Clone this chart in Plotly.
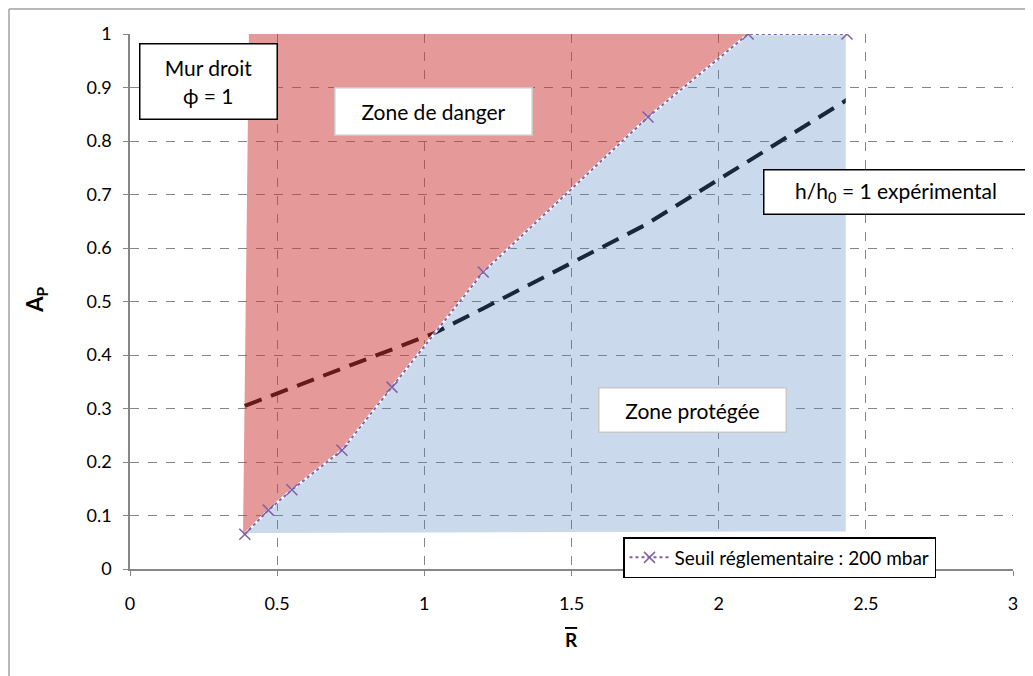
import plotly.graph_objects as go

# seuil réglementaire 200 mbar (R bar, Ap)
seuil_r = [0.39, 0.47, 0.55, 0.72, 0.89, 1.2, 1.76, 2.1, 2.436]
seuil_ap = [0.065, 0.11, 0.148, 0.222, 0.34, 0.555, 0.845, 1.0, 1.0]

# h/h0 = 1 expérimental
exp_r = [0.39, 1.03, 1.2, 1.75, 2.1, 2.436]
exp_ap = [0.305, 0.44, 0.487, 0.643, 0.762, 0.877]

# zone limits
danger_left_r = [0.384, 0.404]
zone_top = 1.0
protect_bottom_ap = [0.065, 0.068]
protect_right_r = 2.436

font_main = "Lato, Open Sans, sans-serif"
purple = "#7E62A8"

fig = go.Figure()

# dashed experimental line (drawn under the translucent zones, like in Excel)
fig.add_trace(go.Scatter(
    x=exp_r, y=exp_ap, mode="lines",
    line=dict(color="black", width=4, dash="18px,10px"),
    showlegend=False, hoverinfo="skip",
))

# red danger zone
red_x = [danger_left_r[0], danger_left_r[1], seuil_r[7]] + seuil_r[6::-1]
red_y = [seuil_ap[0], zone_top, zone_top] + seuil_ap[6::-1]
fig.add_trace(go.Scatter(
    x=red_x, y=red_y, mode="lines", fill="toself",
    fillcolor="rgba(204,51,51,0.5)", line=dict(width=0),
    showlegend=False, hoverinfo="skip",
))

# blue protected zone
blue_x = seuil_r + [protect_right_r, danger_left_r[1]]
blue_y = seuil_ap + [protect_bottom_ap[1], protect_bottom_ap[0]]
fig.add_trace(go.Scatter(
    x=blue_x, y=blue_y, mode="lines", fill="toself",
    fillcolor="rgba(79,129,189,0.3)", line=dict(width=2.5, color="white"),
    showlegend=False, hoverinfo="skip",
))

# threshold curve
fig.add_trace(go.Scatter(
    x=seuil_r, y=seuil_ap, mode="lines+markers",
    name="Seuil réglementaire : 200 mbar",
    line=dict(color=purple, width=2, dash="dot"),
    marker=dict(symbol="x-thin", size=11, line=dict(color=purple, width=1.5)),
))

box_font = dict(family=font_main, size=21, color="black")
fig.add_annotation(x=0.265, y=0.912, xref="x", yref="y", showarrow=False,
                   text="Mur droit<br>ϕ = 1", font=box_font, align="center",
                   width=134, height=72, bgcolor="white",
                   bordercolor="black", borderwidth=1.5, borderpad=1)
fig.add_annotation(x=1.03, y=0.856, xref="x", yref="y", showarrow=False,
                   text="Zone de danger", font=box_font,
                   width=194, height=44, bgcolor="white",
                   bordercolor="#C8C8C8", borderwidth=1.5, borderpad=1)
fig.add_annotation(x=2.601, y=0.7056, xref="x", yref="y", showarrow=False,
                   text="h/h<sub>0</sub> = 1 expérimental", font=box_font,
                   width=261, height=41, bgcolor="white",
                   bordercolor="black", borderwidth=1.5, borderpad=1)
fig.add_annotation(x=1.91, y=0.297, xref="x", yref="y", showarrow=False,
                   text="Zone protégée", font=box_font,
                   width=184, height=41, bgcolor="white",
                   bordercolor="#C8C8C8", borderwidth=1.5, borderpad=1)

# axis titles
fig.add_annotation(x=-0.1065, y=0.503, xref="paper", yref="paper", showarrow=False,
                   xanchor="center", yanchor="middle",
                   text="<b>A<sub>P</sub></b>", textangle=-90,
                   font=dict(family=font_main, size=22, color="black"))
fig.add_annotation(x=1.5, y=(569 - 639) / 535, xref="x", yref="paper", showarrow=False,
                   xanchor="center", yanchor="middle",
                   text="<b><span style='text-decoration:overline'>R</span></b>",
                   font=dict(family=font_main, size=19, color="black"))

# outer chart border (left and top)
fig.add_shape(type="line", xref="paper", yref="paper",
              x0=(9 - 130) / 883, x1=(9 - 130) / 883, y0=(569 - 690) / 535, y1=(569 - 9) / 535,
              line=dict(color="#A0A0A0", width=1.5))
fig.add_shape(type="line", xref="paper", yref="paper",
              x0=(9 - 130) / 883, x1=(1040 - 130) / 883, y0=(569 - 9) / 535, y1=(569 - 9) / 535,
              line=dict(color="#A0A0A0", width=1.5))

axis_common = dict(
    showline=True, linecolor="#868686", linewidth=1.5,
    ticks="outside", ticklen=5, tickcolor="#868686",
    showgrid=True, gridcolor="#868686", gridwidth=1, griddash="dash",
    zeroline=False,
    tickfont=dict(family=font_main, size=18, color="black"),
)
fig.update_xaxes(range=[0, 3], dtick=0.5, tick0=0, ticklabelstandoff=13, **axis_common)
fig.update_yaxes(range=[0, 1], dtick=0.1, tick0=0, ticklabelstandoff=8, **axis_common)

# the page adds an 8px body margin, so the figure is shrunk by that offset
fig.update_layout(
    width=1025, height=668,
    margin=dict(l=122, r=20, t=26, b=107),
    plot_bgcolor="white", paper_bgcolor="white",
    font=dict(family=font_main, color="black"),
    legend=dict(
        x=(623 - 130) / 883, y=(569 - 537) / 535, xanchor="left", yanchor="top",
        bgcolor="white", bordercolor="black", borderwidth=1.5,
        font=dict(family=font_main, size=19, color="black"),
        itemwidth=40, tracegroupgap=0,
        entrywidth=390, entrywidthmode="pixels",
    ),
)

fig.write_html("out.html")
